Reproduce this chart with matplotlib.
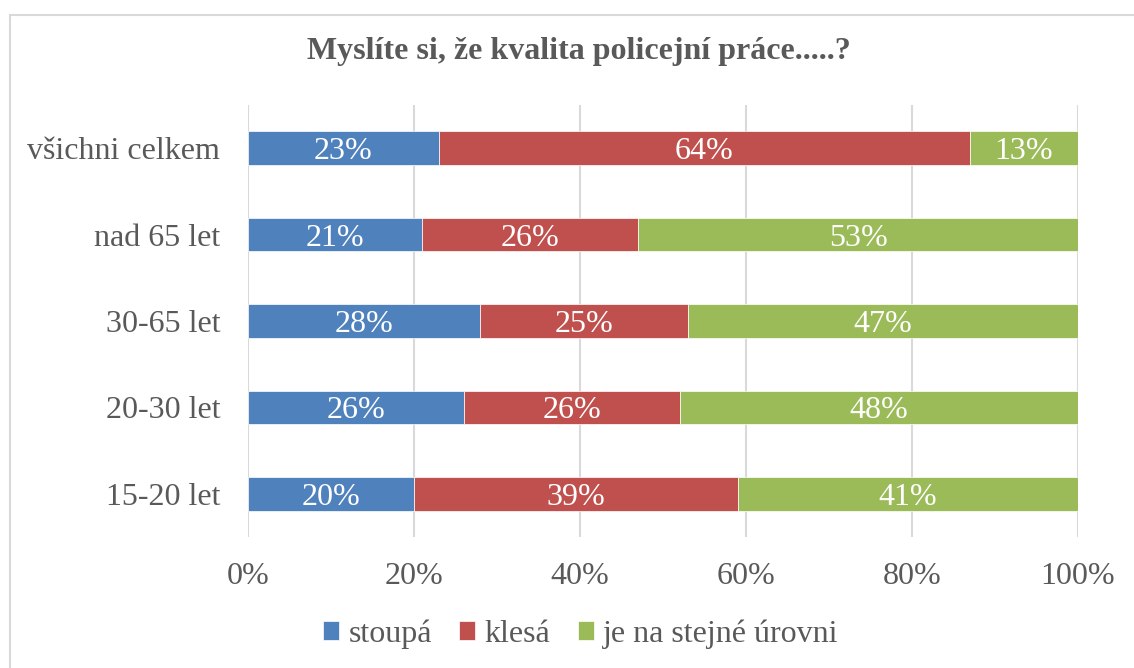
import matplotlib
matplotlib.use("Agg")
import matplotlib.pyplot as plt
from matplotlib.patches import Rectangle

categories = ["15-20 let", "20-30 let", "30-65 let", "nad 65 let", "všichni celkem"]
stoupa = [20, 26, 28, 21, 23]
klesa = [39, 26, 25, 26, 64]
stejne = [41, 48, 47, 53, 13]
series_names = ["stoupá", "klesá", "je na stejné úrovni"]
colors = ["#4F81BD", "#C0504D", "#9BBB59"]
xticks = [0, 20, 40, 60, 80, 100]

plt.rcParams["font.family"] = ["Liberation Serif", "DejaVu Serif"]
text_color = "#595959"

fig = plt.figure(figsize=(11.34, 6.68), dpi=100)
ax = fig.add_axes([248 / 1134, 1 - 537 / 668, 830 / 1134, 432 / 668])

# outer chart border (cut at right/bottom edge like the source)
fig.patches.append(Rectangle((10 / 1134, -0.01), 1.02, 1 - 15 / 668 + 0.01,
                             transform=fig.transFigure, fill=False,
                             edgecolor="#D9D9D9", lw=1.5))

y = list(range(len(categories)))
left = [0] * len(categories)
for vals, name, col in zip([stoupa, klesa, stejne], series_names, colors):
    bars = ax.barh(y, vals, left=left, height=0.39, color=col, label=name,
                   edgecolor="white", linewidth=0.5, zorder=3)
    for b, v in zip(bars, vals):
        ax.text(b.get_x() + b.get_width() / 2, b.get_y() + b.get_height() / 2,
                f"{v}%", ha="center", va="center_baseline", color="white",
                fontsize=23, zorder=4)
    left = [l + v for l, v in zip(left, vals)]

ax.set_xlim(0, 100)
ax.set_ylim(-0.5, len(categories) - 0.5)
ax.set_xticks(xticks)
ax.set_xticklabels([f"{t}%" for t in xticks])
ax.set_yticks(y)
ax.set_yticklabels(categories)
ax.tick_params(axis="both", length=0, labelsize=23, colors=text_color)
ax.tick_params(axis="x", pad=18)
ax.tick_params(axis="y", pad=20)
ax.grid(axis="x", color="#D9D9D9", lw=1.5, zorder=0)
for s in ax.spines.values():
    s.set_visible(False)

fig.text(579 / 1134, 1 - 52 / 668, "Myslíte si, že kvalita policejní práce.....?",
         ha="center", va="center", fontsize=23, fontweight="bold", color=text_color)

fig.legend(loc="center", bbox_to_anchor=(581 / 1134, 1 - 634 / 668), ncol=3, frameon=False,
           fontsize=23, labelcolor=text_color, handlelength=0.5, handleheight=0.5,
           handletextpad=0.3, columnspacing=0.85)

plt.savefig("out.png", dpi=100)
plt.close()
